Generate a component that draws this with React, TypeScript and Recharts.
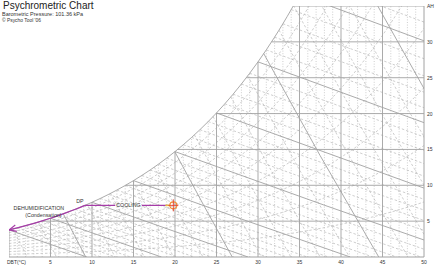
import React from "react";
import { ComposedChart, Line, Scatter, XAxis, YAxis } from "recharts";

// barometric pressure, kPa
const P = 101.325;

// saturation vapour pressure over water, kPa, at 0..50 °C
const SAT_P = [
  0.6112, 0.6571, 0.706, 0.7581, 0.8135, 0.8726, 0.9354, 1.0021, 1.073, 1.1482,
  1.2282, 1.3129, 1.4028, 1.4981, 1.599, 1.7058, 1.8188, 1.9384, 2.0647, 2.1983,
  2.3393, 2.4882, 2.6453, 2.8111, 2.9858, 3.1699, 3.3639, 3.5681, 3.7831, 4.0092,
  4.247, 4.4969, 4.7596, 5.0354, 5.3251, 5.629, 5.9479, 6.2823, 6.6328, 7.0002,
  7.3849, 7.7878, 8.2096, 8.6508, 9.1124, 9.595, 10.099, 10.627, 11.177, 11.752,
  12.352,
];

const DBT_TICKS = [0, 5, 10, 15, 20, 25, 30, 35, 40, 45, 50];
const AH_TICKS = [5, 10, 15, 20, 25, 30, 35];
const AH_LINES = [5, 10, 15, 20, 25, 30, 35];
const RH_LEVELS = [10, 20, 30, 40, 50, 60, 70, 80, 90];
const WB_LEVELS = [
  0, 1, 2, 3, 4, 5, 6, 7, 8, 9, 10, 11, 12, 13, 14, 15, 16, 17, 18, 19, 20, 21,
  22, 23, 24, 25, 26, 27, 28, 29, 30, 31, 32, 33, 34, 35, 36,
];
const VOL_LEVELS = [
  0.78, 0.79, 0.8, 0.81, 0.82, 0.83, 0.84, 0.85, 0.86, 0.87, 0.88, 0.89, 0.9,
  0.91, 0.92, 0.93, 0.94, 0.95,
];

// process: state point (DBT °C, AH g/kg)
const STATE = { t: 19.8, w: 7.2 };
const COOLING_LABEL = { t: 14.4, w: 7.2, text: "COOLING" };
const NOTES = [
  { t: 8.55, w: 7.75, text: "DP" },
  { t: 3.6, w: 6.8, text: "DEHUMIDIFICATION" },
  { t: 4.15, w: 5.85, text: "(Condensation)" },
  COOLING_LABEL,
];

type Pt = { t: number; w: number | null };

const pAt = (t: number) => {
  if (t <= 0) return SAT_P[0];
  if (t >= 50) return SAT_P[50];
  const i = Math.floor(t);
  return SAT_P[i] + (SAT_P[i + 1] - SAT_P[i]) * (t - i);
};
const wFromP = (p: number) => (622 * p) / (P - p);
const wsat = (t: number) => wFromP(pAt(t));
const tDew = (w: number) => {
  const p = (P * w) / (622 + w);
  for (let i = 0; i < 50; i++) {
    if (p <= SAT_P[i + 1]) return i + (p - SAT_P[i]) / (SAT_P[i + 1] - SAT_P[i]);
  }
  return 50;
};
const vol = (t: number, w: number) => (0.287042 * (t + 273.15) * (1 + (1.6078 * w) / 1000)) / P;

const join = (segs: Pt[][]): Pt[] =>
  segs.flatMap((s, i) => (i === 0 ? s : [{ t: s[0].t, w: null }, ...s]));

const range = (a: number, b: number) => Array.from({ length: b - a + 1 }, (_, i) => a + i);

const vertical = (t: number): Pt[] => [
  { t, w: 0 },
  { t, w: wsat(t) },
];
const dottedV = join(range(1, 49).filter((t) => t % 5 !== 0).map(vertical));
const solidV = join([0, 5, 10, 15, 20, 25, 30, 35, 40, 45].map(vertical));

const horiz = join(
  AH_LINES.map((w) => [
    { t: tDew(w), w },
    { t: 50, w },
  ])
);

const saturation: Pt[] = range(0, 36).map((t) => ({ t, w: wsat(t) }));

const rhCurve = (rh: number): Pt[] =>
  range(0, 50).map((t) => ({ t, w: wFromP((rh / 100) * pAt(t)) }));

const wbLine = (twb: number): Pt[] => {
  const ws = wsat(twb);
  const wAt = (t: number) =>
    ((2501 - 2.326 * twb) * ws - 1006 * (t - twb)) / (2501 + 1.86 * t - 4.186 * twb);
  const tEnd = twb + ((2501 - 2.326 * twb) * ws) / 1006;
  const tMid = (twb + tEnd) / 2;
  return [
    { t: twb, w: ws },
    { t: tMid, w: wAt(tMid) },
    { t: tEnd, w: 0 },
  ];
};
const wbDashed = join(WB_LEVELS.filter((v) => v % 5 !== 0).map(wbLine));
const wbSolid = join(WB_LEVELS.filter((v) => v % 5 === 0).map(wbLine));

const volLine = (v: number): Pt[] => {
  let lo = 0;
  let hi = 50;
  for (let k = 0; k < 40; k++) {
    const m = (lo + hi) / 2;
    if (vol(m, wsat(m)) < v) lo = m;
    else hi = m;
  }
  const wc = wsat(lo);
  const tAt = (w: number) => (v * P) / (0.287042 * (1 + (1.6078 * w) / 1000)) - 273.15;
  return [
    { t: lo, w: wc },
    { t: tAt(wc / 2), w: wc / 2 },
    { t: tAt(0), w: 0 },
  ];
};
const volDashed = join(
  VOL_LEVELS.filter((v) => Math.round(v * 100) % 5 !== 0).map(volLine)
);
const volSolid = join(
  VOL_LEVELS.filter((v) => Math.round(v * 100) % 5 === 0).map(volLine)
);

const DEW_T = tDew(STATE.w);
const GAP = 1.6;
const cooling = join([
  [
    { t: STATE.t - 0.6, w: STATE.w },
    { t: COOLING_LABEL.t + GAP, w: STATE.w },
  ],
  [
    { t: COOLING_LABEL.t - GAP, w: STATE.w },
    { t: DEW_T, w: STATE.w },
  ],
]);
const dehumid: Pt[] = [
  { t: DEW_T, w: STATE.w },
  ...range(0, Math.floor(DEW_T))
    .reverse()
    .map((t) => ({ t, w: wsat(t) })),
];
const arrowTip = [{ t: 0, w: wsat(0) }];

const FONT = "'Liberation Sans', Arial, Helvetica, sans-serif";
const SOLID = "#a2a2a2";
const DASH = "#b9b9b9";
const PURPLE = "#a63ca8";

const XTick = (props: any) => {
  const { x, y, payload } = props;
  const first = payload.value === 0;
  return (
    <text
      x={first ? x - 2 : x}
      y={y}
      dy={5}
      textAnchor={first ? "start" : "middle"}
      fontSize={5}
      fontFamily={FONT}
      fill="#333"
    >
      {first ? "DBT(°C)" : payload.value}
    </text>
  );
};

const YTick = (props: any) => {
  const { x, y, payload } = props;
  return (
    <text x={x} y={y} dy={2} textAnchor="start" fontSize={5} fontFamily={FONT} fill="#333">
      {payload.value === 35 ? "AH" : payload.value}
    </text>
  );
};

const NoteShape = (props: any) => {
  const { cx, cy, payload } = props;
  return (
    <text
      x={cx}
      y={cy}
      textAnchor="middle"
      dominantBaseline="central"
      fontSize={5.3}
      fontFamily={FONT}
      fill="#333"
    >
      {payload.text}
    </text>
  );
};

const StateShape = (props: any) => {
  const { cx, cy } = props;
  return (
    <g>
      <line x1={cx - 8} y1={cy} x2={cx - 3} y2={cy} stroke="#e8c040" strokeWidth={1.5} />
      <circle cx={cx} cy={cy} r={3.5} fill="none" stroke="#f0903a" strokeWidth={1.2} />
      <line x1={cx - 5} y1={cy} x2={cx + 5} y2={cy} stroke="#e8402a" strokeWidth={0.9} />
      <line x1={cx} y1={cy - 6} x2={cx} y2={cy + 6} stroke="#e8402a" strokeWidth={0.9} />
    </g>
  );
};

const ArrowShape = (props: any) => {
  const { cx, cy } = props;
  const a = Math.atan2(2.1, -8.3);
  const wing = (d: number) => ({
    x: cx - 8 * Math.cos(a + d),
    y: cy - 8 * Math.sin(a + d),
  });
  const p1 = wing(0.42);
  const p2 = wing(-0.42);
  return (
    <g stroke={PURPLE} strokeWidth={1.2}>
      <line x1={cx} y1={cy} x2={p1.x} y2={p1.y} />
      <line x1={cx} y1={cy} x2={p2.x} y2={p2.y} />
    </g>
  );
};

const gridLine = (key: string, data: Pt[], stroke: string, dash?: string, width = 0.8, type: any = "linear") => (
  <Line
    key={key}
    data={data}
    dataKey="w"
    type={type}
    stroke={stroke}
    strokeWidth={width}
    strokeDasharray={dash}
    dot={false}
    activeDot={false}
    isAnimationActive={false}
  />
);

export default function App() {
  return (
    <div style={{ position: "absolute", left: 0, top: 0, width: 435, height: 270, background: "#fff" }}>
      <svg width={435} height={30} style={{ position: "absolute", left: 0, top: 0 }}>
        <text x={3} y={9} fontSize={10} fontFamily={FONT} fill="#222">
          Psychrometric Chart
        </text>
        <text x={2} y={16.3} fontSize={5.5} fontFamily={FONT} fill="#333">
          Barometric Pressure: 101.36 kPa
        </text>
        <text x={2} y={21.6} fontSize={4.9} fontFamily={FONT} fill="#333">
          © Psycho Tool '06
        </text>
      </svg>
      <div style={{ position: "absolute", left: 0, top: 0 }}>
        <ComposedChart width={435} height={270} margin={{ top: 6, right: 0, bottom: 0, left: 9 }}>
          <XAxis
            type="number"
            dataKey="t"
            domain={[0, 50]}
            ticks={DBT_TICKS}
            interval={0}
            allowDataOverflow
            height={13}
            axisLine={{ stroke: SOLID }}
            tickLine={false}
            tickSize={0}
            tickMargin={2}
            tick={<XTick />}
          />
          <YAxis
            type="number"
            dataKey="w"
            orientation="right"
            domain={[0, 35]}
            ticks={AH_TICKS}
            interval={0}
            allowDataOverflow
            width={11}
            axisLine={{ stroke: SOLID }}
            tickLine={false}
            tickSize={0}
            tickMargin={3}
            tick={<YTick />}
          />
          {gridLine("dv", dottedV, DASH, "1 1.6", 0.7)}
          {RH_LEVELS.map((rh) => gridLine(`rh${rh}`, rhCurve(rh), DASH, "2.5 2", 0.7, "monotone"))}
          {gridLine("wbd", wbDashed, DASH, "2.5 2", 0.7)}
          {gridLine("vd", volDashed, DASH, "2.5 2", 0.7)}
          {gridLine("sv", solidV, SOLID, undefined, 0.9)}
          {gridLine("h", horiz, SOLID, undefined, 0.9)}
          {gridLine("wbs", wbSolid, SOLID, undefined, 0.9)}
          {gridLine("vs", volSolid, SOLID, undefined, 0.9)}
          {gridLine("sat", saturation, SOLID, undefined, 0.9, "monotone")}
          {gridLine("cool", cooling, PURPLE, undefined, 1.3)}
          {gridLine("dehum", dehumid, PURPLE, undefined, 1.3, "monotone")}
          <Scatter data={arrowTip} shape={<ArrowShape />} isAnimationActive={false} />
          <Scatter data={[STATE]} shape={<StateShape />} isAnimationActive={false} />
          <Scatter data={NOTES} shape={<NoteShape />} isAnimationActive={false} />
        </ComposedChart>
      </div>
    </div>
  );
}
